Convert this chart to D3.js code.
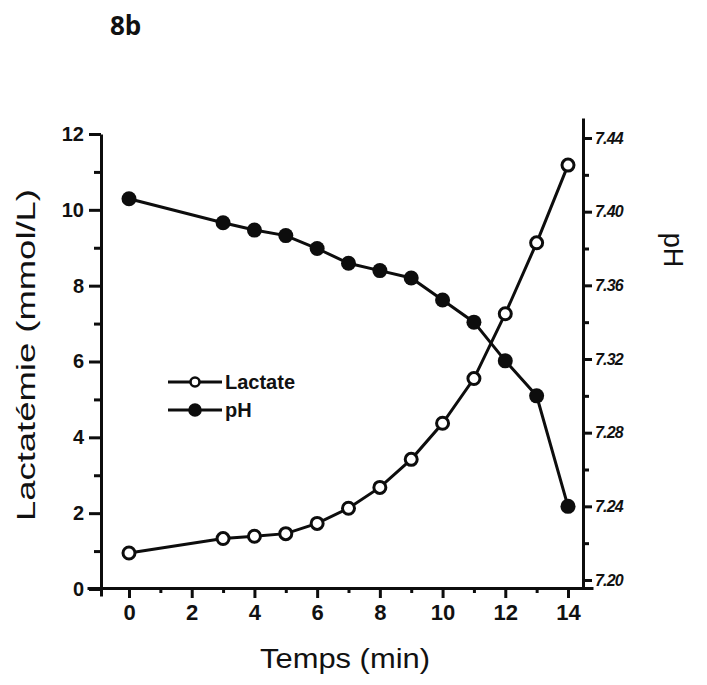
<!DOCTYPE html>
<html>
<head>
<meta charset="utf-8">
<script src="https://cdn.jsdelivr.net/npm/d3@7"></script>
<style>
  html, body { margin: 0; padding: 0; background: #fff; }
  svg { display: block; }
  text { fill: #111; }
</style>
</head>
<body>
<svg id="chart" width="707" height="685"></svg>
<script>
// ---- data ----
const time = [0, 3, 4, 5, 6, 7, 8, 9, 10, 11, 12, 13, 14];
const lactate = [0.95, 1.33, 1.39, 1.46, 1.73, 2.13, 2.68, 3.42, 4.37, 5.55, 7.26, 9.13, 11.18];
const ph = [7.407, 7.394, 7.390, 7.387, 7.380, 7.372, 7.368, 7.364, 7.352, 7.340, 7.319, 7.300, 7.240];
const xTicks = [0, 2, 4, 6, 8, 10, 12, 14];
const xMinorTicks = [1, 3, 5, 7, 9, 11, 13];
const yLeftTicks = [0, 2, 4, 6, 8, 10, 12];
const yLeftMinorTicks = [1, 3, 5, 7, 9, 11];
const yRightTicks = [7.20, 7.24, 7.28, 7.32, 7.36, 7.40, 7.44];
const yRightMinorTicks = [7.22, 7.26, 7.30, 7.34, 7.38, 7.42];
const seriesNames = ["Lactate", "pH"];

const svg = d3.select("#chart");
const ink = "#0d0d0d";
const sw = 3;

const x = d3.scaleLinear().domain([0, 14]).range([129, 568]);
const yL = d3.scaleLinear().domain([0, 12]).range([589, 134]);
const yR = d3.scaleLinear().domain([7.20, 7.44]).range([580, 138]);

// Title
svg.append("text").attr("x", 110).attr("y", 35)
  .attr("font-family", "Open Sans, sans-serif").attr("font-weight", 700)
  .attr("font-size", 26).text("8b");

function styleAxis(g) {
  g.selectAll("path, line").attr("stroke", ink).attr("stroke-width", sw);
  g.selectAll("text").attr("fill", ink).attr("font-family", "Liberation Sans, Arial, sans-serif")
    .attr("font-weight", 700);
}

// Bottom axis (line extended past the data range)
const xAxisScale = x.copy().domain([x.invert(87), x.invert(593)]).range([87, 593]);
svg.append("g").attr("transform", "translate(0,588)")
  .call(d3.axisBottom(xAxisScale).tickValues(xTicks).tickSize(10).tickSizeOuter(0).tickPadding(6)
    .tickFormat(d3.format("d")))
  .call(g => { styleAxis(g); g.selectAll("text").attr("font-size", 22); });
svg.append("g").attr("transform", "translate(0,588)")
  .call(d3.axisBottom(xAxisScale).tickValues(xMinorTicks).tickSize(5).tickSizeOuter(0).tickFormat(""))
  .call(g => { styleAxis(g); g.select(".domain").remove(); });

// Left axis
const yLAxisScale = yL.copy().domain([yL.invert(596), 12]).range([596, 134]);
svg.append("g").attr("transform", "translate(101,0)")
  .call(d3.axisLeft(yLAxisScale).tickValues(yLeftTicks).tickSize(12).tickSizeOuter(0).tickPadding(5)
    .tickFormat(d3.format("d")))
  .call(g => { styleAxis(g); g.selectAll("text").attr("font-size", 20); });
svg.append("g").attr("transform", "translate(101,0)")
  .call(d3.axisLeft(yLAxisScale).tickValues(yLeftMinorTicks).tickSize(7).tickSizeOuter(0).tickFormat(""))
  .call(g => { styleAxis(g); g.select(".domain").remove(); });

// Right axis
const yRAxisScale = yR.copy().domain([yR.invert(588), yR.invert(118)]).range([588, 118]);
svg.append("g").attr("transform", "translate(583,0)")
  .call(d3.axisRight(yRAxisScale).tickValues(yRightTicks).tickSize(9).tickSizeOuter(0).tickPadding(3)
    .tickFormat(d3.format(".2f")))
  .call(g => { styleAxis(g); g.selectAll("text").attr("font-size", 16).attr("letter-spacing", -0.8)
    .attr("font-style", "italic"); });
svg.append("g").attr("transform", "translate(583,0)")
  .call(d3.axisRight(yRAxisScale).tickValues(yRightMinorTicks).tickSize(6).tickSizeOuter(0).tickFormat(""))
  .call(g => { styleAxis(g); g.select(".domain").remove(); });

// Axis titles
svg.append("text").attr("transform", "translate(35,355) rotate(-90)")
  .attr("text-anchor", "middle").attr("font-family", "Liberation Sans, Arial, sans-serif")
  .attr("font-size", 25).attr("textLength", 332).attr("lengthAdjust", "spacingAndGlyphs")
  .text("Lactatémie (mmol/L)");
svg.append("text").attr("transform", "translate(664,250) rotate(90)")
  .attr("text-anchor", "middle").attr("font-family", "Liberation Sans, Arial, sans-serif")
  .attr("font-size", 27).text("pH");
svg.append("text").attr("x", 345).attr("y", 668)
  .attr("text-anchor", "middle").attr("font-family", "Liberation Sans, Arial, sans-serif")
  .attr("font-size", 28).attr("textLength", 170).attr("lengthAdjust", "spacingAndGlyphs")
  .text("Temps (min)");

// Lines
const lacData = time.map((t, i) => ({ t, v: lactate[i] }));
const phData = time.map((t, i) => ({ t, v: ph[i] }));
const lineL = d3.line().x(d => x(d.t)).y(d => yL(d.v));
const lineR = d3.line().x(d => x(d.t)).y(d => yR(d.v));

svg.append("path").datum(phData).attr("d", lineR)
  .attr("fill", "none").attr("stroke", ink).attr("stroke-width", sw);
svg.append("path").datum(lacData).attr("d", lineL)
  .attr("fill", "none").attr("stroke", ink).attr("stroke-width", sw);

svg.append("g").selectAll("circle").data(phData).join("circle")
  .attr("cx", d => x(d.t)).attr("cy", d => yR(d.v)).attr("r", 7.5)
  .attr("fill", ink);
svg.append("g").selectAll("circle").data(lacData).join("circle")
  .attr("cx", d => x(d.t)).attr("cy", d => yL(d.v)).attr("r", 6)
  .attr("fill", "#fff").attr("stroke", ink).attr("stroke-width", 3);

// Legend
const legend = svg.append("g");
const legY = [382, 410];
seriesNames.forEach((name, i) => {
  const g = legend.append("g").attr("transform", `translate(0,${legY[i]})`);
  g.append("line").attr("x1", 168).attr("x2", 222).attr("y1", 0).attr("y2", 0)
    .attr("stroke", ink).attr("stroke-width", sw);
  g.append("circle").attr("cx", 195).attr("cy", 0).attr("r", i === 0 ? 4.5 : 5.5)
    .attr("fill", i === 0 ? "#fff" : ink).attr("stroke", ink).attr("stroke-width", 2.6);
  g.append("text").attr("x", 225).attr("y", 7)
    .attr("font-family", "Liberation Sans, Arial, sans-serif").attr("font-weight", 700)
    .attr("font-size", 20).text(name);
});
</script>
</body>
</html>
